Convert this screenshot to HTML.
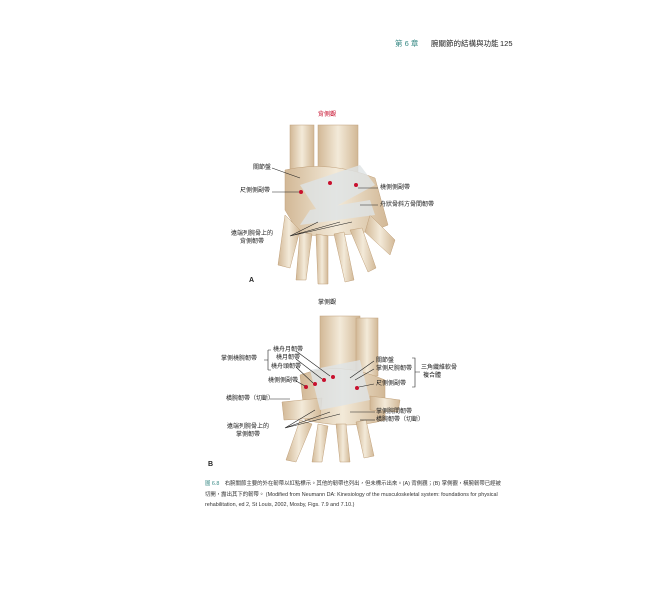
<!DOCTYPE html>
<html><head><meta charset="utf-8"><style>
body{margin:0;background:#fff;width:655px;height:609px;overflow:hidden;position:relative;font-family:"Liberation Sans","Noto Sans CJK TC",sans-serif;}
.t{position:absolute;font-size:6px;color:#222;white-space:nowrap;line-height:7px}
.cap{position:absolute;left:205px;top:479px;font-size:5.4px;line-height:10.5px;color:#333;white-space:nowrap}
</style></head><body>
<div class="t" style="left:395px;top:40px;font-size:7.5px;color:#3a8a86">第 6 章</div>
<div class="t" style="left:431px;top:40px;font-size:7.5px">腕關節的結構與功能</div>
<div class="t" style="left:500px;top:40px;font-size:7.5px">125</div>
<svg width="655" height="609" style="position:absolute;left:0;top:0">
<defs><linearGradient id="g" x1="0" x2="1"><stop offset="0" stop-color="#d2b896"/><stop offset=".5" stop-color="#f3ead9"/><stop offset="1" stop-color="#d2b896"/></linearGradient></defs>
<g fill="url(#g)" stroke="#c0a07a" stroke-width=".5">
<rect x="290" y="125" width="24" height="50"/><rect x="318" y="125" width="40" height="50"/>
<path d="M285 170 Q330 160 375 178 L388 225 Q360 238 300 235 L285 210Z"/>
<path d="M285 215 L278 265 L290 268 L300 230Z"/>
<path d="M300 232 L296 280 L306 280 L312 234Z"/>
<path d="M316 234 L318 284 L328 284 L328 236Z"/>
<path d="M334 234 L345 282 L354 280 L344 232Z"/>
<path d="M350 230 L368 272 L376 268 L362 228Z"/>
<path d="M370 215 L395 240 L390 255 L365 232Z"/>
<rect x="320" y="316" width="40" height="60"/><rect x="356" y="318" width="22" height="58"/>
<path d="M300 375 Q340 360 385 380 L385 420 Q350 430 305 420Z"/>
<path d="M282 402 L322 398 L320 418 L284 420Z"/>
<path d="M300 420 L286 460 L296 462 L312 424Z"/>
<path d="M318 424 L312 462 L322 462 L328 426Z"/>
<path d="M336 424 L340 462 L350 462 L346 424Z"/>
<path d="M356 422 L364 458 L374 456 L366 420Z"/>
<path d="M370 396 L400 400 L398 412 L370 410Z"/>
</g>
<g fill="#dfe4e6" opacity=".8"><path d="M300 185 L360 165 L375 185 L320 215Z"/><path d="M310 210 L370 200 L375 215 L300 225Z"/>
<path d="M310 370 L360 360 L370 400 L320 410Z"/></g>
<g fill="#c8102e"><circle cx="301" cy="192" r="2"/><circle cx="330" cy="183" r="2"/><circle cx="356" cy="185" r="2"/>
<circle cx="306" cy="387" r="2"/><circle cx="315" cy="384" r="2"/><circle cx="324" cy="380" r="2"/><circle cx="333" cy="377" r="2"/><circle cx="357" cy="388" r="2"/></g>
<g stroke="#222" stroke-width=".6" fill="none">
<line x1="272" y1="168" x2="300" y2="178"/><line x1="272" y1="192" x2="299" y2="192"/>
<line x1="358" y1="188" x2="378" y2="188"/><line x1="360" y1="205" x2="378" y2="205"/>
<path d="M290 236 L318 222 M290 236 L340 222 M290 236 L352 222"/>
<path d="M268 350 L268 370 M268 350 L271 350 M268 370 L271 370 M264 360 L268 360"/>
<line x1="296" y1="351" x2="330" y2="376"/><line x1="296" y1="359" x2="322" y2="379"/><line x1="296" y1="367" x2="313" y2="383"/><line x1="296" y1="381" x2="305" y2="386"/>
<line x1="270" y1="399" x2="290" y2="399"/>
<path d="M285 428 L315 410 M285 428 L330 412 M285 428 L340 414"/>
<line x1="374" y1="361" x2="350" y2="378"/><line x1="374" y1="369" x2="355" y2="380"/><line x1="374" y1="384" x2="359" y2="387"/>
<path d="M412 358 L415 358 L415 387 L412 387 M415 372 L420 372"/>
<line x1="350" y1="412" x2="375" y2="412"/><line x1="360" y1="420" x2="375" y2="420"/>
</g>
</svg>
<div class="t" style="left:318px;top:112px;color:#c8102e">背側觀</div>
<div class="t" style="left:253px;top:165px">關節盤</div>
<div class="t" style="left:240px;top:188px">尺側側副帶</div>
<div class="t" style="left:380px;top:185px">橈側側副帶</div>
<div class="t" style="left:380px;top:202px">舟狀骨斜方骨間韌帶</div>
<div class="t" style="left:231px;top:231px">遠端列腕骨上的</div>
<div class="t" style="left:240px;top:239px">背側韌帶</div>
<div class="t" style="left:249px;top:277px;font-size:7px;font-weight:bold">A</div>
<div class="t" style="left:318px;top:300px">掌側觀</div>
<div class="t" style="left:273px;top:347px">橈舟月韌帶</div>
<div class="t" style="left:276px;top:355px">橈月韌帶</div>
<div class="t" style="left:271px;top:364px">橈舟頭韌帶</div>
<div class="t" style="left:221px;top:356px">掌側橈腕韌帶</div>
<div class="t" style="left:268px;top:378px">橈側側副帶</div>
<div class="t" style="left:226px;top:396px">橫腕韌帶（切斷）</div>
<div class="t" style="left:227px;top:424px">遠端列腕骨上的</div>
<div class="t" style="left:236px;top:432px">掌側韌帶</div>
<div class="t" style="left:376px;top:358px">關節盤</div>
<div class="t" style="left:376px;top:366px">掌側尺腕韌帶</div>
<div class="t" style="left:376px;top:381px">尺側側副帶</div>
<div class="t" style="left:421px;top:365px">三角纖維軟骨</div>
<div class="t" style="left:423px;top:373px">複合體</div>
<div class="t" style="left:376px;top:409px">掌側腕間韌帶</div>
<div class="t" style="left:376px;top:417px">橫腕韌帶（切斷）</div>
<div class="t" style="left:208px;top:461px;font-size:7px;font-weight:bold">B</div>
<div class="cap"><span style="color:#3a8a86">圖 6.8</span>　右腕關節主要的外在韌帶以紅點標示。其他的韌帶也列出，但未標示出來。(A) 背側觀；(B) 掌側觀，橫腕韌帶已經被<br>切開，露出其下的韌帶。 (Modified from Neumann DA: Kinesiology of the musculoskeletal system: foundations for physical<br>rehabilitation, ed 2, St Louis, 2002, Mosby, Figs. 7.9 and 7.10.)</div>
</body></html>
